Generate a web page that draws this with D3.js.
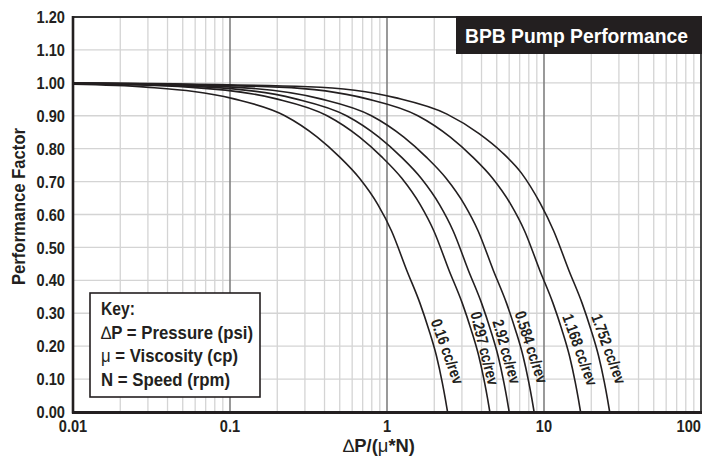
<!DOCTYPE html>
<html><head><meta charset="utf-8">
<script src="https://cdn.jsdelivr.net/npm/d3@7/dist/d3.min.js"></script>
<style>
html,body{margin:0;padding:0;background:#fff;}
svg{display:block;}
text{font-family:"Liberation Sans",Arial,sans-serif;font-weight:bold;fill:#231f20;}
</style></head>
<body>
<svg id="chart" width="712" height="463"></svg>
<script>
// ---- data ----
const xTickValues = [0.01, 0.1, 1, 10, 100];
const xTickLabels = ["0.01", "0.1", "1", "10", "100"];
const yTickValues = [0, 0.1, 0.2, 0.3, 0.4, 0.5, 0.6, 0.7, 0.8, 0.9, 1.0, 1.1, 1.2];
const yTickLabels = ["0.00","0.10","0.20","0.30","0.40","0.50","0.60","0.70","0.80","0.90","1.00","1.10","1.20"];
const seriesNames = ["0.16 cc/rev", "0.297 cc/rev", "2.92 cc/rev", "0.584 cc/rev", "1.168 cc/rev", "1.752 cc/rev"];

const curve016X  = [0.01, 0.0292, 0.1045, 0.2236, 0.3596, 0.4982, 0.6683, 0.8748, 1.069, 1.337, 1.623, 1.847, 2.066, 2.248, 2.352, 2.43];
const curve016Y  = [0.996, 0.987, 0.952, 0.90, 0.835, 0.775, 0.71, 0.63, 0.55, 0.43, 0.33, 0.25, 0.17, 0.09, 0.04, 0];
const curve0297X = [0.01, 0.0542, 0.1944, 0.4158, 0.669, 0.9266, 1.243, 1.627, 1.989, 2.486, 3.019, 3.435, 3.842, 4.181, 4.375, 4.52];
const curve0297Y = [0.998, 0.987, 0.952, 0.90, 0.835, 0.775, 0.71, 0.63, 0.55, 0.43, 0.33, 0.25, 0.17, 0.09, 0.04, 0];
const curve292X  = [0.01, 0.072, 0.258, 0.552, 0.888, 1.23, 1.65, 2.16, 2.64, 3.30, 4.008, 4.56, 5.10, 5.55, 5.808, 6.0];
const curve292Y  = [0.998, 0.987, 0.952, 0.90, 0.835, 0.775, 0.71, 0.63, 0.55, 0.43, 0.33, 0.25, 0.17, 0.09, 0.04, 0];
const curve0584X = [0.01, 0.1038, 0.372, 0.7958, 1.280, 1.773, 2.379, 3.114, 3.806, 4.758, 5.778, 6.574, 7.353, 8.001, 8.373, 8.65];
const curve0584Y = [0.999, 0.987, 0.952, 0.90, 0.835, 0.775, 0.71, 0.63, 0.55, 0.43, 0.33, 0.25, 0.17, 0.09, 0.04, 0];
const curve1168X = [0.01, 0.2052, 0.7353, 1.573, 2.531, 3.506, 4.703, 6.156, 7.524, 9.405, 11.42, 13.0, 14.54, 15.82, 16.55, 17.1];
const curve1168Y = [0.999, 0.987, 0.952, 0.90, 0.835, 0.775, 0.71, 0.63, 0.55, 0.43, 0.33, 0.25, 0.17, 0.09, 0.04, 0];
const curve1752X = [0.01, 0.3144, 1.127, 2.410, 3.878, 5.371, 7.205, 9.432, 11.53, 14.41, 17.50, 19.91, 22.27, 24.24, 25.36, 26.2];
const curve1752Y = [1.0, 0.988, 0.955, 0.905, 0.845, 0.79, 0.725, 0.635, 0.55, 0.43, 0.33, 0.25, 0.17, 0.09, 0.04, 0];

const curveXs = [curve016X, curve0297X, curve292X, curve0584X, curve1168X, curve1752X];
const curveYs = [curve016Y, curve0297Y, curve292Y, curve0584Y, curve1168Y, curve1752Y];
const labelAtValue = [0.275, 0.30, 0.275, 0.30, 0.29, 0.29];

const titleText = "BPB Pump Performance";
const xTitleParts = [["\u2206", false], ["P/(", true], ["\u03BC", false], ["*N)", true]];
const yTitle = "Performance Factor";
const keyLines = [
  [["Key:", true]],
  [["\u2206", false], ["P = Pressure (psi)", true]],
  [["\u03BC", false], [" = Viscosity (cp)", true]],
  [["N = Speed (rpm)", true]]
];

(function () {
// ---- layout / style ----
const pL = 73, pR = 701, pT = 17, pB = 412;
const labelAngle = [70, 76, 74, 72, 70, 70];
const labelLen = [68, 75, 66, 75, 75, 73];
const keyLen = [34, 152, 137, 129];
const tickSX = 0.86;
const svg = d3.select("#chart");
const x = d3.scaleLog().domain([0.01, 100]).range([pL, pR]);
const y = d3.scaleLinear().domain([0, 1.2]).range([pB, pT]);
const ink = "#231f20";

// vertical grid
const allX = x.ticks();
const isMajor = v => Math.abs(Math.log10(v) - Math.round(Math.log10(v))) < 1e-6;
svg.append("g").selectAll("line").data(allX.filter(v => !isMajor(v)))
  .join("line")
  .attr("x1", d => x(d)).attr("x2", d => x(d)).attr("y1", pT).attr("y2", pB)
  .attr("stroke", "#d4d4d4").attr("stroke-width", 1.3);
// horizontal grid
svg.append("g").selectAll("line").data(yTickValues.filter(v => v > 0 && v < 1.2))
  .join("line")
  .attr("x1", pL).attr("x2", pR).attr("y1", d => y(d)).attr("y2", d => y(d))
  .attr("stroke", "#d4d4d4").attr("stroke-width", 1.3);
// major decade lines
svg.append("g").selectAll("line").data(xTickValues.slice(1, -1))
  .join("line")
  .attr("x1", d => x(d)).attr("x2", d => x(d)).attr("y1", pT).attr("y2", pB)
  .attr("stroke", "#808080").attr("stroke-width", 1.6);

// frame top & right
svg.append("path")
  .attr("d", `M${pL},${pT}H${pR}V${pB}`)
  .attr("fill", "none").attr("stroke", "#333").attr("stroke-width", 1.8);

// curves
const line = d3.line().x(d => x(d[0])).y(d => y(d[1])).curve(d3.curveMonotoneX);
curveXs.forEach((xs, i) => {
  const pts = xs.map((v, j) => [v, curveYs[i][j]]);
  svg.append("path").datum(pts).attr("d", line)
    .attr("fill", "none").attr("stroke", ink).attr("stroke-width", 1.6);
});

// curve labels
curveXs.forEach((xs, i) => {
  const ys = curveYs[i];
  const v = labelAtValue[i];
  let lx = x(xs[xs.length - 1]);
  for (let j = 0; j < ys.length - 1; j++) {
    if (ys[j] >= v && ys[j + 1] <= v) {
      const t = (ys[j] - v) / (ys[j] - ys[j + 1]);
      lx = x(xs[j]) + t * (x(xs[j + 1]) - x(xs[j]));
      break;
    }
  }
  svg.append("text")
    .attr("transform", `translate(${lx + 4.5},${y(v)}) rotate(${labelAngle[i]})`)
    .attr("font-size", 16)
    .attr("textLength", labelLen[i]).attr("lengthAdjust", "spacingAndGlyphs")
    .text(seriesNames[i]);
});

// axes (thick left & bottom)
svg.append("line").attr("x1", pL).attr("x2", pL).attr("y1", pT - 1).attr("y2", pB + 1.5)
  .attr("stroke", ink).attr("stroke-width", 2.6);
svg.append("line").attr("x1", pL - 1).attr("x2", pR + 1).attr("y1", pB + 0.5).attr("y2", pB + 0.5)
  .attr("stroke", ink).attr("stroke-width", 2.8);

// y tick labels
svg.append("g").selectAll("text").data(yTickValues).join("text")
  .attr("transform", d => `translate(${pL - 8},${y(d)}) scale(${tickSX},1)`)
  .attr("dy", "0.36em")
  .attr("text-anchor", "end").attr("font-size", 17)
  .text((d, i) => yTickLabels[i]);
// x tick labels
svg.append("g").selectAll("text").data(xTickValues).join("text")
  .attr("transform", (d, i) => `translate(${i === xTickValues.length - 1 ? pR : x(d)},${pB + 20}) scale(${tickSX},1)`)
  .attr("text-anchor", (d, i) => i === xTickValues.length - 1 ? "end" : "middle").attr("font-size", 17)
  .text((d, i) => xTickLabels[i]);

// x title
const xt = svg.append("text").attr("x", 343).attr("y", 452)
  .attr("font-size", 18).attr("textLength", 72).attr("lengthAdjust", "spacingAndGlyphs");
xTitleParts.forEach(p => xt.append("tspan").text(p[0])
  .attr("font-weight", p[1] ? "bold" : "normal"));

// y title
svg.append("text").attr("transform", `translate(25,${y(0.6) - 8}) rotate(-90)`)
  .attr("x", -78.5)
  .attr("font-size", 18).attr("textLength", 157).attr("lengthAdjust", "spacingAndGlyphs")
  .text(yTitle);

// title box
svg.append("rect").attr("x", 456).attr("y", pT - 1).attr("width", pR - 456 + 1).attr("height", 38)
  .attr("fill", ink);
svg.append("text").attr("x", 465).attr("y", 43).attr("font-size", 21)
  .attr("textLength", 223).attr("lengthAdjust", "spacingAndGlyphs")
  .style("fill", "#fff").text(titleText);

// key box
svg.append("rect").attr("x", 90).attr("y", 293).attr("width", 170).attr("height", 104)
  .attr("fill", "#fff").attr("stroke", ink).attr("stroke-width", 1.6);
keyLines.forEach((parts, i) => {
  const t = svg.append("text").attr("x", 101).attr("y", 315 + i * 23.7).attr("font-size", 18)
    .attr("textLength", keyLen[i]).attr("lengthAdjust", "spacingAndGlyphs");
  parts.forEach(p => t.append("tspan").text(p[0])
    .attr("font-weight", p[1] ? "bold" : "normal"));
});
})();
</script>
</body></html>
